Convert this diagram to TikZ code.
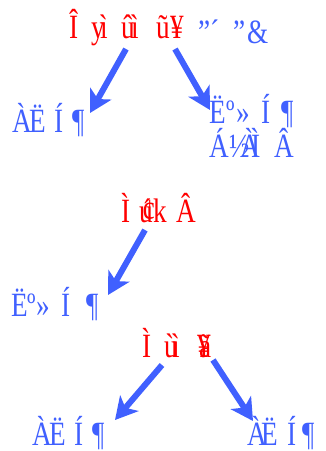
\documentclass[tikz,border=0pt]{standalone}
\usepackage{fontspec}
\setmainfont{Liberation Serif}
\usetikzlibrary{arrows.meta}
\definecolor{myblue}{RGB}{64,96,255}
\definecolor{myred}{RGB}{255,0,0}
\newcommand\gl[2]{\rlap{\kern#1pt\scalebox{0.8}[1]{#2}}}
\tikzset{
  lbl/.style={anchor=base west,inner sep=0pt,font=\fontsize{34}{36}\selectfont},
  redlbl/.style={lbl,text=myred},
  bluelbl/.style={lbl,text=myblue},
  arr/.style={draw=myblue,line width=6pt,-{Stealth[length=22pt,width=24pt,inset=6pt]}}
}
\begin{document}
\begin{tikzpicture}[x=1pt,y=-1pt]
\path[use as bounding box] (0,0) rectangle (326,451);
% top red label
\node[redlbl] (top) at (69,38) {\gl{0}{Î}\gl{22}{y}\gl{31}{ì}\gl{52}{û}\gl{62}{ì}\gl{87}{ũ}\gl{101}{¥}\kern125pt};
\node[bluelbl] (topb) at (198,43) {\gl{0}{\char"22}\gl{12}{´}\gl{35}{\char"22}\gl{49}{\&}\kern68pt};
% first row
\node[bluelbl] (l1) at (12,132) {\gl{0}{À}\gl{17}{Ë}\gl{42}{Í}\gl{60}{¶}\kern76pt};
\node[bluelbl] (r1a) at (209,123) {\gl{0}{Ë}\gl{17}{º}\gl{27}{»}\gl{52}{Í}\gl{72}{¶}\kern88pt};
\node[bluelbl] (r1b) at (209,157) {\gl{0}{Á}\gl{20}{½}\gl{31}{À}\gl{42}{Ì}\gl{65}{Â}\kern82pt};
% middle
\node[redlbl] (mid) at (121,222) {\gl{0}{Ì}\gl{18}{ú}\gl{21}{¢}\gl{32}{k}\gl{55}{Â}\kern75pt};
\node[bluelbl] (l2) at (11,316) {\gl{0}{Ë}\gl{16}{º}\gl{25}{»}\gl{50}{Í}\gl{75}{¶}\kern91pt};
% lower
\node[redlbl] (low) at (142,357) {\gl{0}{Ì}\gl{22}{ù}\gl{30}{ì}\gl{55}{¥}\gl{57}{ã}\kern75pt};
\node[bluelbl] (l3) at (32,445) {\gl{0}{À}\gl{17}{Ë}\gl{42}{Í}\gl{60}{¶}\kern75pt};
\node[bluelbl] (r3) at (247,445) {\gl{0}{À}\gl{14}{Ë}\gl{40}{Í}\gl{55}{¶}\kern70pt};
% arrow end points
\coordinate (s1) at (126,49);
\coordinate (e1) at (90,113);
\coordinate (s2) at (175,49);
\coordinate (e2) at (210,110);
\coordinate (s3) at (145,230);
\coordinate (e3) at (108,295);
\coordinate (s4) at (162,365);
\coordinate (e4) at (115,420);
\coordinate (s5) at (213,360);
\coordinate (e5) at (253,421);
\draw[arr] (s1) -- (e1);
\draw[arr] (s2) -- (e2);
\draw[arr] (s3) -- (e3);
\draw[arr] (s4) -- (e4);
\draw[arr] (s5) -- (e5);
\end{tikzpicture}
\end{document}
